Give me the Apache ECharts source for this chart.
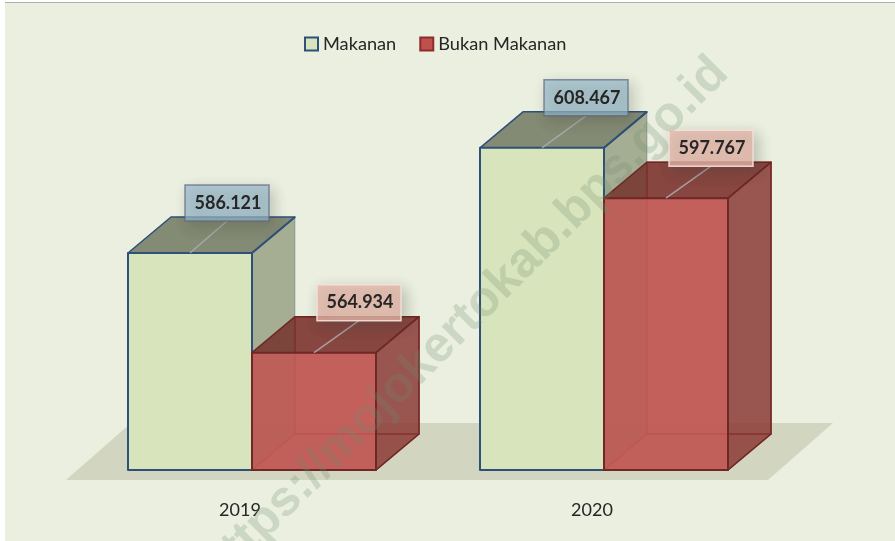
<!DOCTYPE html>
<html>
<head>
<meta charset="utf-8">
<style>
  html, body { margin: 0; padding: 0; background: #ffffff; }
  #chart { width: 895px; height: 541px; }
</style>
<script src="https://cdn.jsdelivr.net/npm/echarts@6/dist/echarts.min.js"></script>
</head>
<body>
<div id="chart"></div>
<script>
const years = ['2019', '2020'];
const makanan = [586.121, 608.467];
const bukanMakanan = [564.934, 597.767];
const labelTexts = { Makanan: ['586.121', '608.467'], 'Bukan Makanan': ['564.934', '597.767'] };

const fontName = 'Lato, "Open Sans", sans-serif';
const barWidth = 124;
const depthX = 43;
const depthY = 36;
const bandShift = 12; // the year labels sit a little left of the bars

const themes = {
    Makanan: {
        offset: -barWidth / 2,
        line: '#2f5078',
        inner: 'rgba(0,0,0,0)',
        front: '#d7e4bc',
        side: 'rgba(118,130,96,0.6)',
        top: 'rgba(98,106,80,0.75)',
        boxFill: 'rgba(150,185,205,0.68)',
        boxLine: 'rgba(90,100,135,0.7)',
        shiftX: [37, 44]
    },
    'Bukan Makanan': {
        offset: barWidth / 2,
        line: '#6f2825',
        inner: 'rgba(192,84,80,0.4)',
        front: 'rgba(192,88,84,0.9)',
        side: 'rgba(128,50,46,0.72)',
        top: 'rgba(112,40,36,0.78)',
        boxFill: 'rgba(232,185,172,0.78)',
        boxLine: 'rgba(245,225,218,0.9)',
        shiftX: [45, 45]
    }
};

function poly(points, fill, stroke, lineWidth) {
    return {
        type: 'polygon',
        shape: { points: points },
        style: { fill: fill, stroke: stroke, lineWidth: lineWidth || 0, lineJoin: 'round' }
    };
}

function renderBar(params, api) {
    const theme = themes[params.seriesName];
    const isGreen = params.seriesName === 'Makanan';
    const idx = api.value(0);
    const top = api.coord([idx, api.value(1)]);
    const base = api.coord([idx, 540]);
    const x0 = top[0] + bandShift + theme.offset - barWidth / 2;
    const x1 = x0 + barWidth;
    const y0 = top[1];
    const y1 = base[1];
    const dx = depthX;
    const dy = depthY;
    const children = [];

    // hidden faces, only seen through the red bar
    if (!isGreen) {
        children.push(poly([[x0 + dx, y0 - dy], [x1 + dx, y0 - dy], [x1 + dx, y1 - dy], [x0 + dx, y1 - dy]], theme.inner, 'rgba(150,50,48,0.7)', 1.5));
        children.push(poly([[x0, y1], [x0 + dx, y1 - dy], [x1 + dx, y1 - dy], [x1, y1]], theme.inner, 'rgba(150,50,48,0.7)', 1.5));
    }
    children.push(poly([[x1, y0], [x1 + dx, y0 - dy], [x1 + dx, y1 - dy], [x1, y1]], theme.side, isGreen ? 'rgba(47,80,120,0.3)' : theme.line, isGreen ? 1 : 1.5));
    children.push(poly([[x0, y0], [x0 + dx, y0 - dy], [x1 + dx, y0 - dy], [x1, y0]], theme.top, theme.line, 1.5));
    children.push(poly([[x0, y0], [x1, y0], [x1, y1], [x0, y1]], theme.front, theme.line, 2));
    if (isGreen) {
        children.push({ type: 'line', shape: { x1: x1, y1: y0, x2: x1 + dx, y2: y0 - dy }, style: { stroke: theme.line, lineWidth: 2 } });
    }

    // value box with its leader line
    const midX = (x0 + x1) / 2;
    const boxX = midX + theme.shiftX[idx];
    const boxY = y0 - 50;
    children.push({
        type: 'line',
        shape: { x1: midX, y1: y0, x2: boxX, y2: boxY + 18 },
        style: { stroke: 'rgba(170,175,175,0.85)', lineWidth: 1.5 }
    });
    children.push({
        type: 'rect',
        shape: { x: boxX - 42, y: boxY - 18, width: 84, height: 36 },
        style: {
            fill: theme.boxFill,
            stroke: theme.boxLine,
            lineWidth: 1.5,
            shadowBlur: 14,
            shadowColor: 'rgba(60,60,50,0.35)',
            shadowOffsetX: 4,
            shadowOffsetY: 5
        }
    });
    children.push({
        type: 'text',
        style: {
            x: boxX + 1,
            y: boxY,
            text: labelTexts[params.seriesName][idx],
            fill: '#262626',
            font: 'bold 18px ' + fontName,
            align: 'center',
            verticalAlign: 'middle'
        }
    });
    return { type: 'group', children: children };
}

function renderFloor(params, api) {
    const sys = params.coordSys;
    const front = sys.y + sys.height + 10;
    const back = front - 57;
    return poly([
        [sys.x + 2, front],
        [sys.x + 704, front],
        [sys.x + 769, back],
        [sys.x + 67, back]
    ], '#d2d5bf');
}

const chart = echarts.init(document.getElementById('chart'));
chart.setOption({
    backgroundColor: '#eaefdf',
    animation: false,
    legend: {
        left: 304,
        top: 35,
        padding: 0,
        itemWidth: 13,
        itemHeight: 13,
        itemGap: 23,
        textStyle: { fontFamily: fontName, fontSize: 18.2, color: '#262626' },
        data: [
            { name: 'Makanan', icon: 'rect', itemStyle: { color: '#d7e4bc', borderColor: '#2f5078', borderWidth: 2 } },
            { name: 'Bukan Makanan', icon: 'rect', itemStyle: { color: '#c0504d', borderColor: '#8c2f2c', borderWidth: 2 } }
        ]
    },
    grid: { left: 64, top: 70, width: 704, height: 400 },
    xAxis: {
        type: 'category',
        data: years,
        axisLine: { show: false },
        axisTick: { show: false },
        axisLabel: { margin: 31, fontFamily: fontName, fontSize: 18, color: '#262626' }
    },
    yAxis: { type: 'value', min: 540, max: 625, show: false },
    series: [
        {
            name: 'floor',
            type: 'custom',
            renderItem: renderFloor,
            data: [[0, 540]],
            encode: { x: 0, y: 1 },
            z: 1,
            silent: true
        },
        {
            name: 'Makanan',
            type: 'custom',
            renderItem: renderBar,
            data: makanan.map((v, i) => [i, v]),
            encode: { x: 0, y: 1 },
            z: 2
        },
        {
            name: 'Bukan Makanan',
            type: 'custom',
            renderItem: renderBar,
            data: bukanMakanan.map((v, i) => [i, v]),
            encode: { x: 0, y: 1 },
            z: 3
        }
    ],
    graphic: [
        // page edge left over around the picture
        { type: 'rect', z: 90, silent: true, shape: { x: 0, y: 0, width: 895, height: 2 }, style: { fill: '#ffffff' } },
        { type: 'rect', z: 90, silent: true, shape: { x: 0, y: 2, width: 895, height: 1 }, style: { fill: '#b0b0b0' } },
        { type: 'rect', z: 91, silent: true, shape: { x: 0, y: 0, width: 5, height: 541 }, style: { fill: '#ffffff' } },
        {
            type: 'text',
            z: 100,
            silent: true,
            x: 209,
            y: 577,
            rotation: Math.PI / 4,
            style: {
                text: 'https://mojokertokab.bps.go.id',
                font: 'bold 49.5px "Liberation Sans", sans-serif',
                fill: 'rgba(110,140,110,0.25)',
                align: 'left',
                verticalAlign: 'middle'
            }
        }
    ]
});
</script>
</body>
</html>
